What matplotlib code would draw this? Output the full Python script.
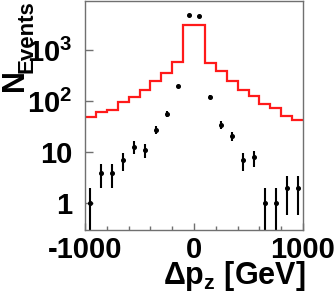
import numpy as np
import matplotlib
matplotlib.use("Agg")
import matplotlib.pyplot as plt
from matplotlib.ticker import FixedLocator, FixedFormatter, LogLocator, NullFormatter

plt.rcParams['font.family'] = ['Liberation Sans', 'DejaVu Sans']
plt.rcParams['font.weight'] = 'bold'
plt.rcParams['mathtext.fontset'] = 'custom'
plt.rcParams['mathtext.rm'] = 'Liberation Sans:bold'
plt.rcParams['mathtext.it'] = 'Liberation Sans:bold'
plt.rcParams['mathtext.bf'] = 'Liberation Sans:bold'
plt.rcParams['mathtext.default'] = 'rm'

# Data
bin_edges = np.arange(-1000, 1001, 100)
expected = [49, 62, 69, 97, 122, 170, 250, 365, 590, 3100,
            3100, 573, 387, 254, 170, 127, 87, 75, 52, 44]
observed = [1, 4, 4, 7, 13, 11, 28, 56, 197, 4920,
            4640, 121, 35, 21, 7, 8, 1, 1, 2, 2]
x_ticks = [-1000, 0, 1000]
x_ticklabels = ["-1000", "0", "1000"]
y_ticks = [1, 10, 100, 1000]
y_ticklabels = ["1", "10", r"$10^{2}$", r"$10^{3}$"]

W, H = 336, 300
fig = plt.figure(figsize=(W / 100, H / 100), dpi=100)
ax = fig.add_axes([85 / W, 1 - 230 / H, (303 - 85) / W, 229.5 / H])

edges = np.array(bin_edges, dtype=float)
centers = 0.5 * (edges[:-1] + edges[1:])
obs = np.array(observed, dtype=float)
err = np.sqrt(obs)
err_lo = np.minimum(err, obs - 1e-3)

ax.stairs(expected, edges, color='#ff1a1a', linewidth=1.6, baseline=None)
ax.errorbar(centers, obs, yerr=[err_lo, err], fmt='o', color='black',
            markersize=2.6, elinewidth=1.5, capsize=0)

ax.set_yscale('log')
ax.set_xlim(-1000, 1000)
ax.set_ylim(0.3, 9500)

ax.xaxis.set_major_locator(FixedLocator(x_ticks))
ax.xaxis.set_major_formatter(FixedFormatter(x_ticklabels))
ax.xaxis.set_minor_locator(FixedLocator(np.arange(-1000, 1001, 200)))
ax.yaxis.set_major_locator(FixedLocator(y_ticks))
ax.yaxis.set_major_formatter(FixedFormatter(y_ticklabels))
ax.yaxis.set_minor_locator(LogLocator(base=10, subs=np.arange(2, 10)))
ax.yaxis.set_minor_formatter(NullFormatter())

gray = '#707070'
for s in ax.spines.values():
    s.set_color(gray)
    s.set_linewidth(1.0)
ax.tick_params(which='both', direction='in', color=gray, top=False, right=False)
ax.tick_params(axis='x', which='major', length=5, width=1, labelsize=21, pad=4)
ax.tick_params(axis='x', which='minor', length=3, width=1)
ax.tick_params(axis='y', which='major', length=6, width=1, labelsize=21, pad=9)
ax.tick_params(axis='y', which='minor', length=3, width=1)

fig.text(305 / W, 1 - 284 / H, r"$\Delta p_{z}$ [GeV]", fontsize=22,
         ha='right', va='baseline')
fig.text(0 / W, 1 - 91 / H, "N", fontsize=22, rotation=90,
         ha='left', va='bottom')
fig.text(17 / W, 1.0, "Events", fontsize=16, rotation=90,
         ha='left', va='top')

fig.savefig('out.png', dpi=100)
